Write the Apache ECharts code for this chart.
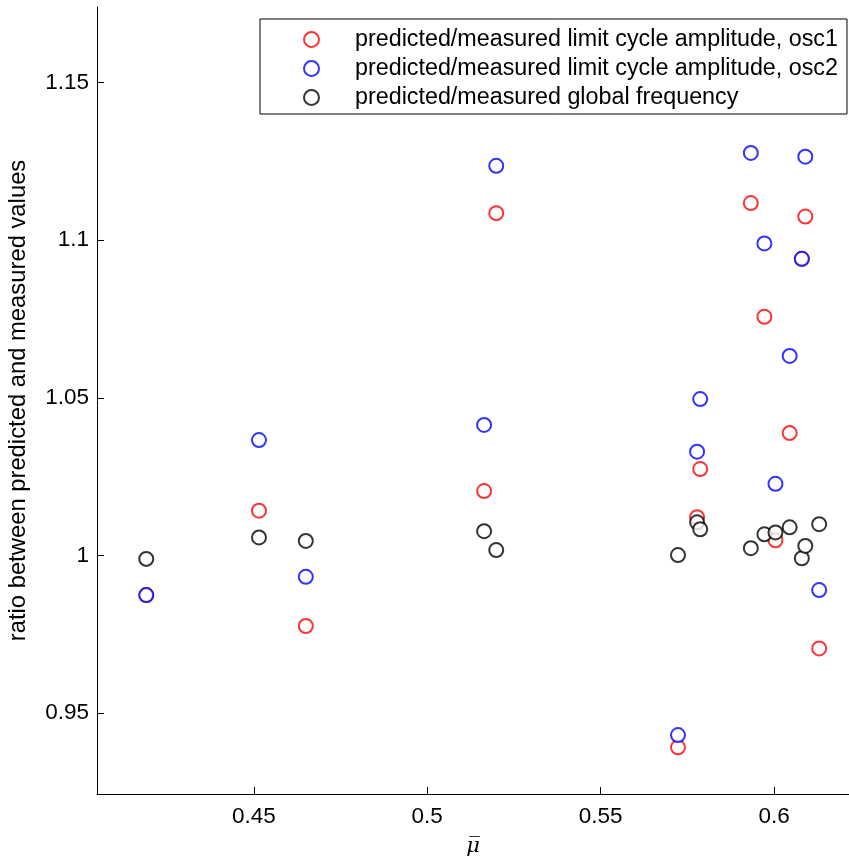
<!DOCTYPE html>
<html>
<head>
<meta charset="utf-8">
<script src="https://cdn.jsdelivr.net/npm/echarts@6/dist/echarts.min.js"></script>
<style>
  html, body { margin: 0; padding: 0; background: #fff; }
  #chart { width: 849px; height: 859px; }
</style>
</head>
<body>
<div id="chart"></div>
<script>
// mean coupling values (x) shared by the three series
var muBar = [0.4190, 0.4515, 0.4650, 0.5164, 0.5199, 0.5723, 0.5778, 0.5787,
             0.5933, 0.5972, 0.6004, 0.6045, 0.6080, 0.6090, 0.6130];
var ampOsc1 = [0.9874, 1.0142, 0.9776, 1.0204, 1.1086, 0.9391, 1.0121, 1.0274,
               1.1118, 1.0757, 1.0048, 1.0388, 1.0941, 1.1075, 0.9705];
var ampOsc2 = [0.9874, 1.0366, 0.9932, 1.0414, 1.1236, 0.9430, 1.0329, 1.0496,
               1.1277, 1.0990, 1.0227, 1.0633, 1.0941, 1.1265, 0.9890];
var globalFreq = [0.9989, 1.0057, 1.0046, 1.0077, 1.0017, 1.0001, 1.0105, 1.0083,
                  1.0023, 1.0067, 1.0073, 1.0089, 0.9991, 1.0030, 1.0099];
var xTicks = [0.45, 0.5, 0.55, 0.6];
var yTicks = [0.95, 1, 1.05, 1.1, 1.15];
var seriesNames = [
    'predicted/measured limit cycle amplitude, osc1',
    'predicted/measured limit cycle amplitude, osc2',
    'predicted/measured global frequency'
];

var FONT = 'Liberation Sans, Arial, Helvetica, sans-serif';

function pairs(ys) {
    var out = [];
    for (var i = 0; i < muBar.length; i++) {
        out.push([muBar[i], ys[i]]);
    }
    return out;
}

function ring(name, ys, color) {
    return {
        name: name,
        type: 'scatter',
        data: pairs(ys),
        symbol: 'emptyCircle',
        symbolSize: 14,
        itemStyle: {color: color, borderColor: color, borderWidth: 1.2},
        emphasis: {disabled: true}
    };
}

var myChart = echarts.init(document.getElementById('chart'));
myChart.setOption({
    animation: false,
    backgroundColor: '#fff',
    grid: {left: 97, right: 0, top: 7, bottom: 65, containLabel: false, outerBoundsMode: 'none'},
    legend: {
        orient: 'vertical',
        left: 260,
        top: 19,
        padding: [9, 9, 5, 43],
        itemWidth: 15,
        itemHeight: 15,
        itemGap: 6,
        borderColor: '#000',
        borderWidth: 1,
        borderRadius: 0,
        backgroundColor: '#fff',
        textStyle: {fontFamily: FONT, fontSize: 23.3, color: '#000', padding: [0, 0, 0, 31]},
        data: seriesNames
    },
    xAxis: {
        type: 'value',
        min: 0.4048,
        max: 0.6216,
        name: 'μ\u0305',
        nameLocation: 'middle',
        nameGap: 42,
        nameTextStyle: {fontFamily: 'DejaVu Serif', fontStyle: 'italic', fontSize: 21, color: '#000'},
        axisLine: {lineStyle: {color: '#000', width: 1}},
        axisTick: {show: true, inside: true, length: 7, customValues: xTicks, lineStyle: {color: '#000'}},
        axisLabel: {customValues: xTicks, fontFamily: FONT, fontSize: 22.5, color: '#000', margin: 11},
        splitLine: {show: false}
    },
    yAxis: {
        type: 'value',
        min: 0.9243,
        max: 1.1740,
        name: 'ratio between predicted and measured values',
        nameLocation: 'middle',
        nameGap: 67,
        nameTextStyle: {fontFamily: FONT, fontSize: 23.8, color: '#000'},
        axisLine: {show: true, lineStyle: {color: '#000', width: 1}},
        axisTick: {show: true, inside: true, length: 7, customValues: yTicks, lineStyle: {color: '#000'}},
        axisLabel: {customValues: yTicks, fontFamily: FONT, fontSize: 22.5, color: '#000', margin: 8},
        splitLine: {show: false}
    },
    series: [
        ring(seriesNames[0], ampOsc1, '#ff0000'),
        ring(seriesNames[1], ampOsc2, '#0000ff'),
        ring(seriesNames[2], globalFreq, '#000000')
    ]
});
</script>
</body>
</html>
